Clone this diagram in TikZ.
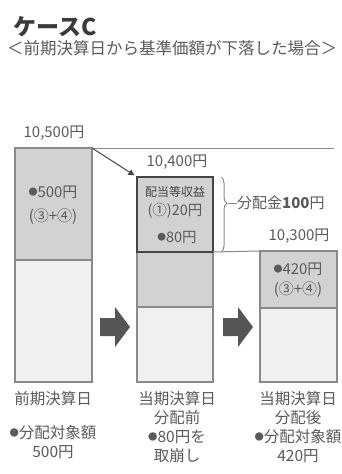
\documentclass[tikz,border=0pt]{standalone}
\usepackage{fontspec}
\setmainfont{Noto Sans CJK JP}
\usetikzlibrary{decorations.pathreplacing,arrows.meta}
\definecolor{txt}{HTML}{5A5A5A}
\definecolor{ttl}{HTML}{3A3A3A}
\definecolor{shade}{HTML}{D2D2D2}
\definecolor{light}{HTML}{F0F0F0}
\definecolor{edge}{HTML}{8A8A8A}
\definecolor{dark}{HTML}{454545}
\definecolor{arr}{HTML}{555555}
\newcommand{\bmk}{\raisebox{0.12em}{\scalebox{0.6}{●}}}
\begin{document}
\begin{tikzpicture}[x=1pt,y=-1pt,
  every node/.style={text=txt, font=\fontsize{15}{18}\selectfont, inner sep=0pt},
  seg/.style={draw=edge, line width=1.4pt, rectangle, anchor=north west, minimum width=#1, inner sep=0pt, outer sep=0pt},
  lbl/.style={align=center, font=\fontsize{15.5}{19}\selectfont},
  blockarrow/.style={fill=arr, draw=none},
  guide/.style={draw=edge, line width=1pt}
]
\useasboundingbox (0,0) rectangle (342,474);
% title
\node[anchor=west, font=\fontsize{23}{26}\selectfont\bfseries, text=ttl] (title) at (13,27) {ケースC};
\node[anchor=west, font=\fontsize{16.5}{18}\selectfont] (sub) at (7,48) {＜前期決算日から基準価額が下落した場合＞};
% left bar
\node[seg=77pt, minimum height=112pt, fill=shade] (lt) at (15,148) {};
\node[seg=77pt, minimum height=122pt, fill=light] (lb) at (15,260) {};
% middle bar
\node[seg=76pt, minimum height=55pt, fill=shade] (mg) at (137,252) {};
\node[seg=76pt, minimum height=75pt, fill=light] (ml) at (137,307) {};
\node[seg=76pt, minimum height=75pt, fill=shade, draw=dark, line width=2pt] (mbox) at (137,177) {};
% right bar
\node[seg=77pt, minimum height=57pt, fill=shade] (rg) at (260,251) {};
\node[seg=77pt, minimum height=74pt, fill=light] (rl) at (260,308) {};
% values
\node (v1) at (54,133) {10,500円};
\node (v2) at (177,162) {10,400円};
\node (v3) at (299,236) {10,300円};
% inner texts
\node[align=center, font=\fontsize{15}{24}\selectfont] (lt1) at (53,205) {\bmk 500円\\(③+④)};
\node[font=\fontsize{12}{14}\selectfont, text=dark] (m1) at (175,192) {配当等収益};
\node[font=\fontsize{14.5}{16}\selectfont] (m2) at (175,211) {(①)20円};
\node[font=\fontsize{14.5}{16}\selectfont] (m3) at (177,237) {\bmk 80円};
\node[align=center, font=\fontsize{15}{20}\selectfont] (rt1) at (298,280) {\bmk 420円\\(③+④)};
% guide lines
\coordinate (hend) at (334,148);
\draw[guide] (lt.north east) -- (hend);
\draw[guide, -{Triangle[length=6pt,width=6pt]}, draw=dark, shorten >=3pt] (lt.north east) -- (mbox.north west);
\draw[guide] (mbox.south east) -- (rg.north west);
% brace
\draw[draw=edge, line width=1pt, decorate, decoration={brace, amplitude=6pt, aspect=0.35}] (221,177) -- (221,252);
\coordinate (bt) at (228,203);
\node[anchor=west, font=\fontsize{15}{18}\selectfont] (dist) at (237,203) {分配金\textbf{100}円};
\draw[draw=edge, line width=1pt] (bt) -- (dist.west);
% block arrows
\path[blockarrow] (100,318) -- (115,318) -- (115,307) -- (130,327) -- (115,347) -- (115,336) -- (100,336) -- cycle;
\path[blockarrow] (223,318) -- (238,318) -- (238,307) -- (253,327) -- (238,347) -- (238,336) -- (223,336) -- cycle;
% bottom labels
\node[lbl, anchor=north] (la) at (53,391) {前期決算日};
\node[lbl, anchor=north] (lc) at (53,425) {\bmk 分配対象額\\500円};
\node[lbl, anchor=north] (ma) at (177,391) {当期決算日\\分配前\\\bmk 80円を\\取崩し};
\node[lbl, anchor=north] (ra) at (298,391) {当期決算日\\分配後\\\bmk 分配対象額\\420円};
\end{tikzpicture}
\end{document}
